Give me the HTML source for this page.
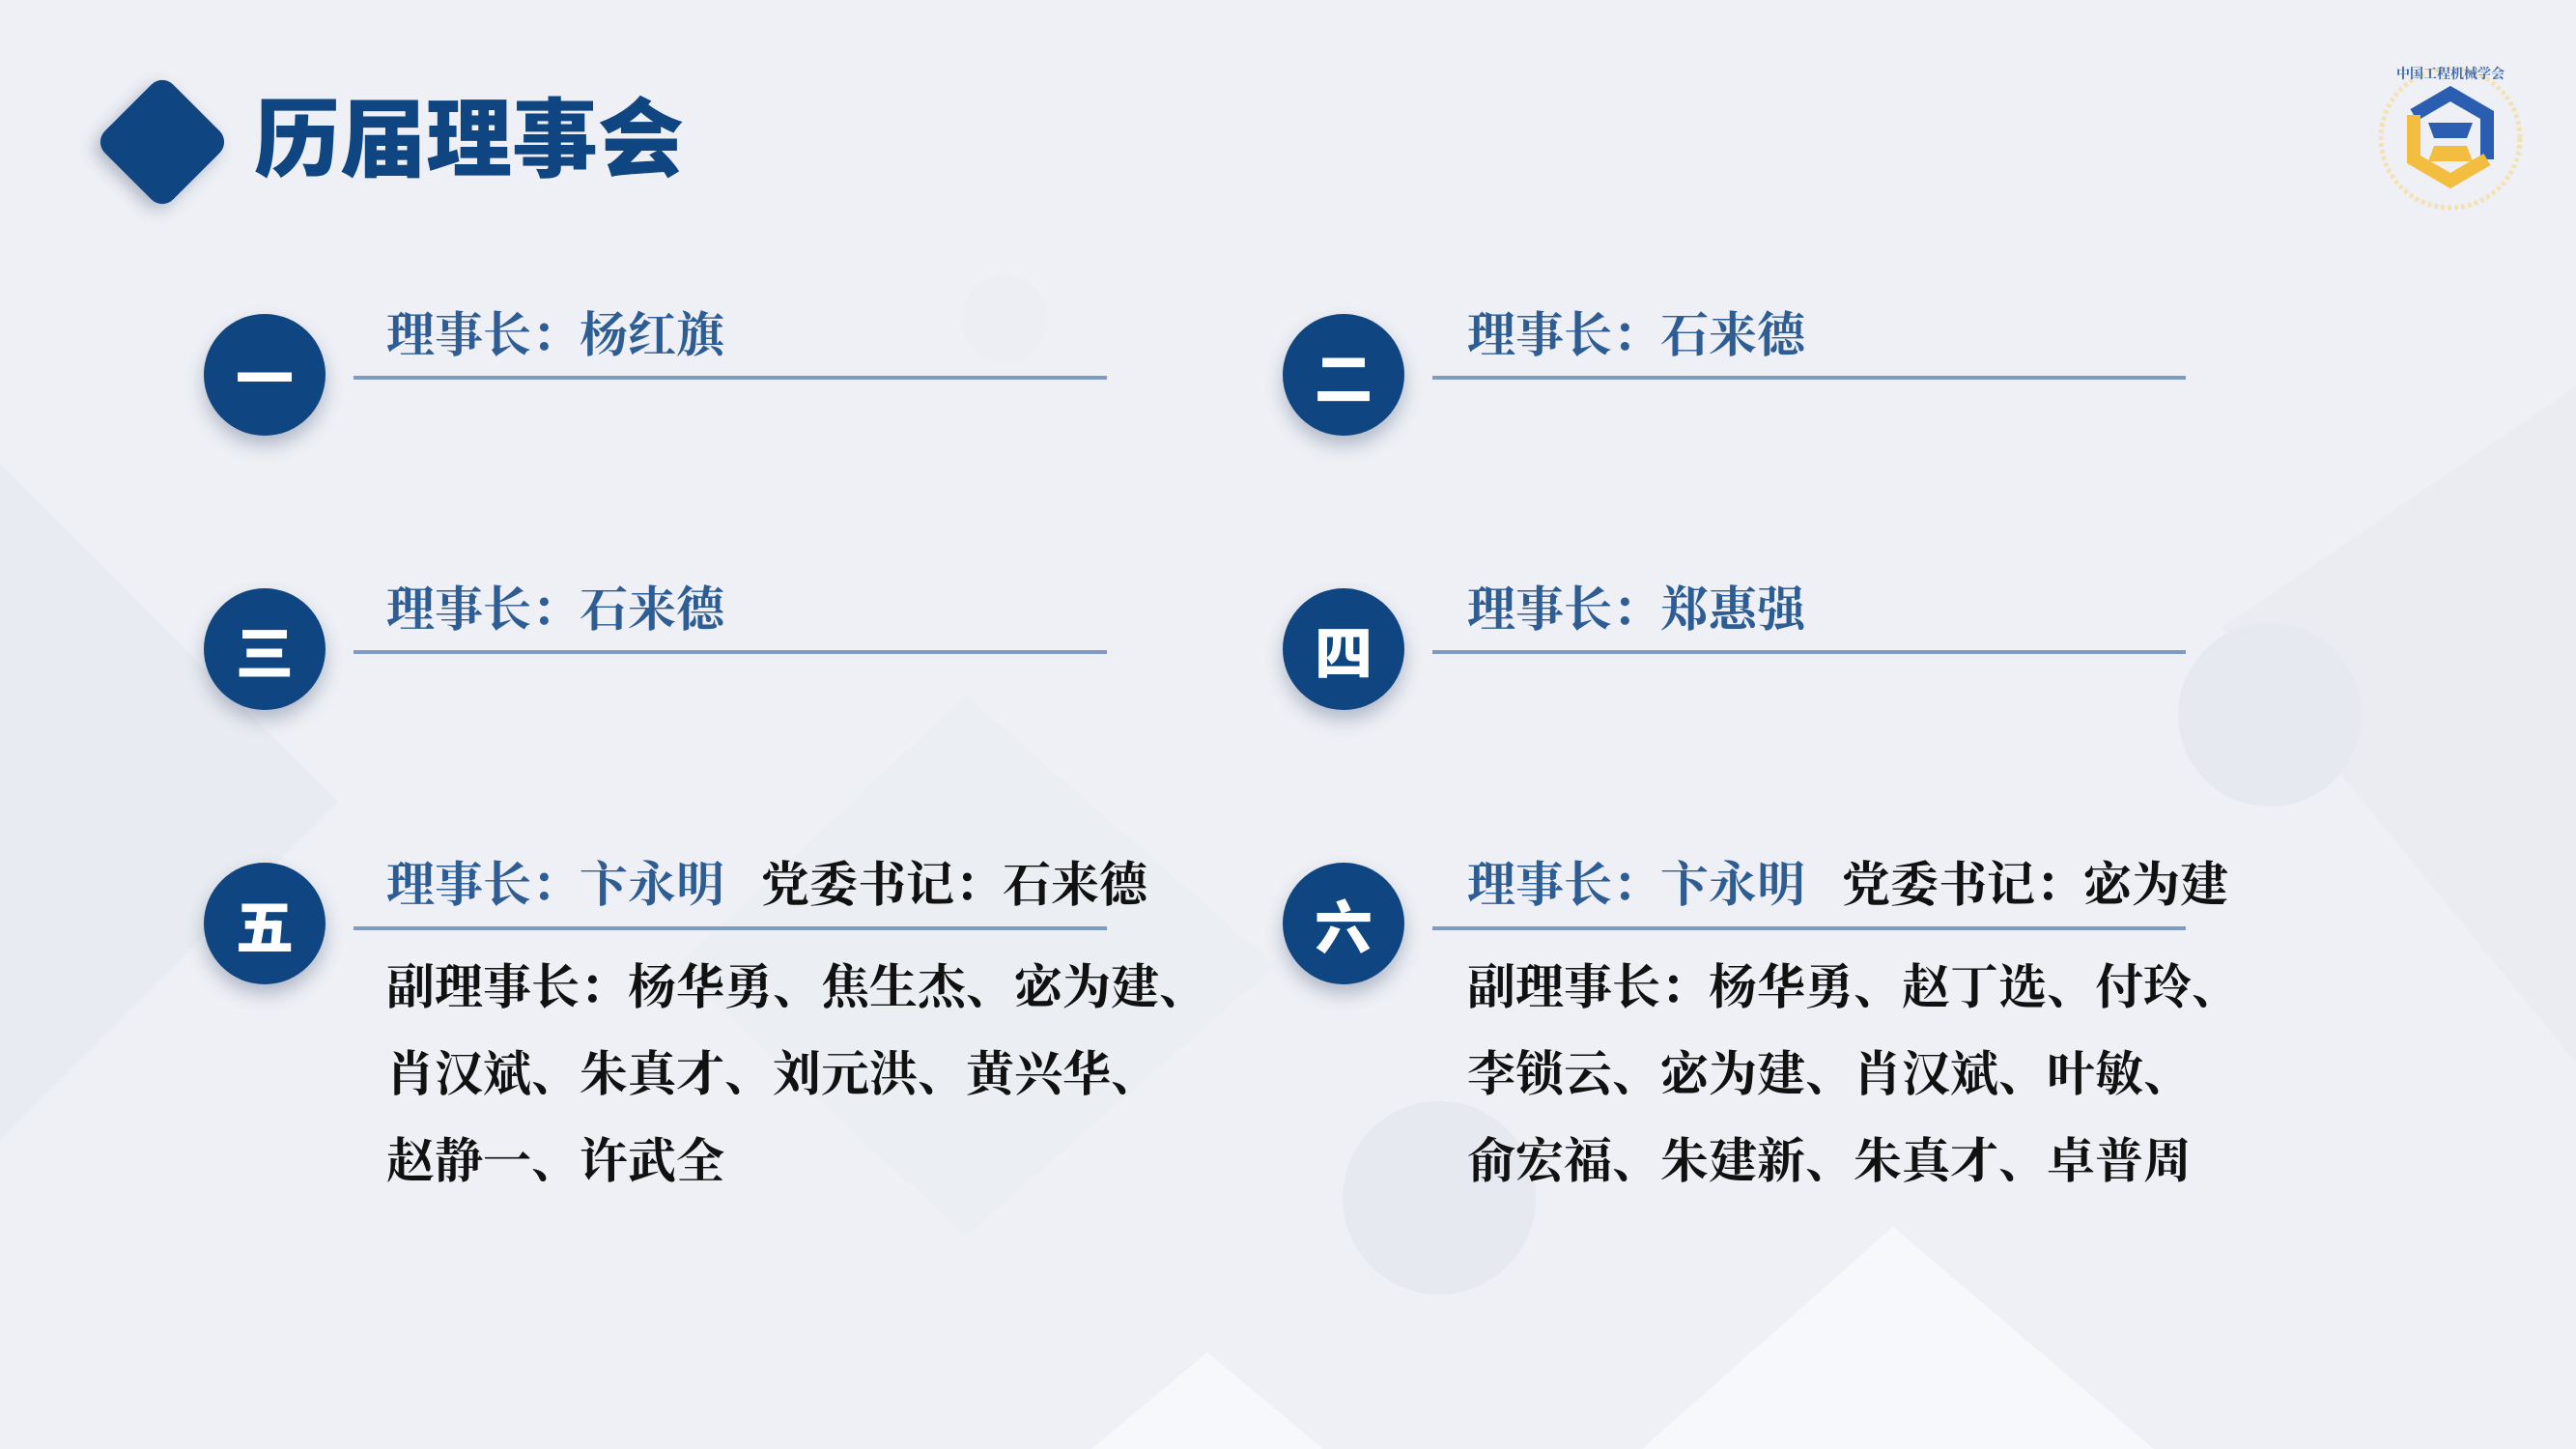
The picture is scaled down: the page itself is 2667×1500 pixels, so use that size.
<!DOCTYPE html>
<html><head><meta charset="utf-8"><style>
html,body{margin:0;padding:0}
body{width:2667px;height:1500px;position:relative;overflow:hidden;background:#eef0f5;font-family:"Liberation Serif","Noto Serif CJK SC",serif}
.t{position:absolute;white-space:nowrap;font-weight:700;font-size:50px;line-height:1}
.b{color:#2e5d94}.k{color:#111}
.c{position:absolute;width:126px;height:126px;border-radius:50%;background:#0f4580;color:#fff;font-family:"Liberation Sans","Noto Sans CJK SC",sans-serif;font-weight:900;font-size:60px;display:flex;align-items:center;justify-content:center;box-shadow:0 10px 18px rgba(40,60,100,.3)}
.l{position:absolute;height:4px;background:#7f9cc0;width:780px}
</style></head><body>
<svg width="2667" height="1500" style="position:absolute;left:0;top:0">
<polygon points="0,480 350,830 0,1180" fill="#e8ebf1"/>
<polygon points="1000,720 1320,1000 1000,1280 700,1000" fill="#e9ecf2" opacity=".6"/>
<polygon points="2300,650 2667,400 2667,1100" fill="#e8ebf1" opacity=".8"/>
<polygon points="1700,1500 1960,1270 2230,1500" fill="#f7f8fb"/>
<polygon points="1130,1500 1250,1400 1370,1500" fill="#f7f8fb"/>
<circle cx="2350" cy="740" r="95" fill="#e6e9ef"/>
<circle cx="1490" cy="1240" r="100" fill="#e6e9ef"/>
<circle cx="1040" cy="330" r="45" fill="#eceef4"/>
</svg>
<div style="position:absolute;left:118px;top:97px;width:100px;height:100px;background:#0f4580;border-radius:16px;transform:rotate(45deg);box-shadow:0 8px 16px rgba(40,60,100,.3)"></div>
<div class="t" style="left:263px;top:101px;font-size:89px;color:#0f4580;font-family:'Liberation Sans','Noto Sans CJK SC',sans-serif;font-weight:900">历届理事会</div>

<svg width="170" height="170" style="position:absolute;left:2452px;top:55px" viewBox="0 0 170 170">
<circle cx="85" cy="88" r="72" fill="none" stroke="#f5dfa8" stroke-width="5" stroke-dasharray="4 3" opacity=".8"/>
<g stroke-width="14" fill="none" stroke-linejoin="miter">
<polyline points="47,64 85,42 123,64 123,110" stroke="#2b5db0"/>
<polyline points="47,64 47,110 85,132 123,110" stroke="#f3bd3f"/>
</g>
<polygon points="62,72 108,72 102,88 68,88" fill="#2b5db0"/>
<polygon points="68,96 102,96 108,112 62,112" fill="#f3bd3f"/>
<text x="85" y="26" font-size="14" font-weight="700" text-anchor="middle" fill="#3c67a8" font-family="Noto Serif CJK SC,serif">中国工程机械学会</text>
</svg>

<div class="c" style="left:211px;top:325px">一</div>
<div class="c" style="left:1328px;top:325px">二</div>
<div class="c" style="left:211px;top:609px">三</div>
<div class="c" style="left:1328px;top:609px">四</div>
<div class="c" style="left:211px;top:893px">五</div>
<div class="c" style="left:1328px;top:893px">六</div>

<div class="l" style="left:366px;top:389px"></div>
<div class="l" style="left:1483px;top:389px"></div>
<div class="l" style="left:366px;top:673px"></div>
<div class="l" style="left:1483px;top:673px"></div>
<div class="l" style="left:366px;top:959px"></div>
<div class="l" style="left:1483px;top:959px"></div>

<div class="t b" style="left:400px;top:322px">理事长：杨红旗</div>
<div class="t b" style="left:1519px;top:322px">理事长：石来德</div>
<div class="t b" style="left:400px;top:606px">理事长：石来德</div>
<div class="t b" style="left:1519px;top:606px">理事长：郑惠强</div>
<div class="t" style="left:400px;top:891px"><span class="b">理事长：卞永明</span><span class="k" style="margin-left:38px">党委书记：石来德</span></div>
<div class="t" style="left:1519px;top:891px"><span class="b">理事长：卞永明</span><span class="k" style="margin-left:38px">党委书记：宓为建</span></div>
<div class="t k" style="left:400px;top:977px;line-height:90px;white-space:normal;width:860px">副理事长：杨华勇、焦生杰、宓为建、<br>肖汉斌、朱真才、刘元洪、黄兴华、<br>赵静一、许武全</div>
<div class="t k" style="left:1519px;top:977px;line-height:90px;white-space:normal;width:860px">副理事长：杨华勇、赵丁选、付玲、<br>李锁云、宓为建、肖汉斌、叶敏、<br>俞宏福、朱建新、朱真才、卓普周</div>
</body></html>
